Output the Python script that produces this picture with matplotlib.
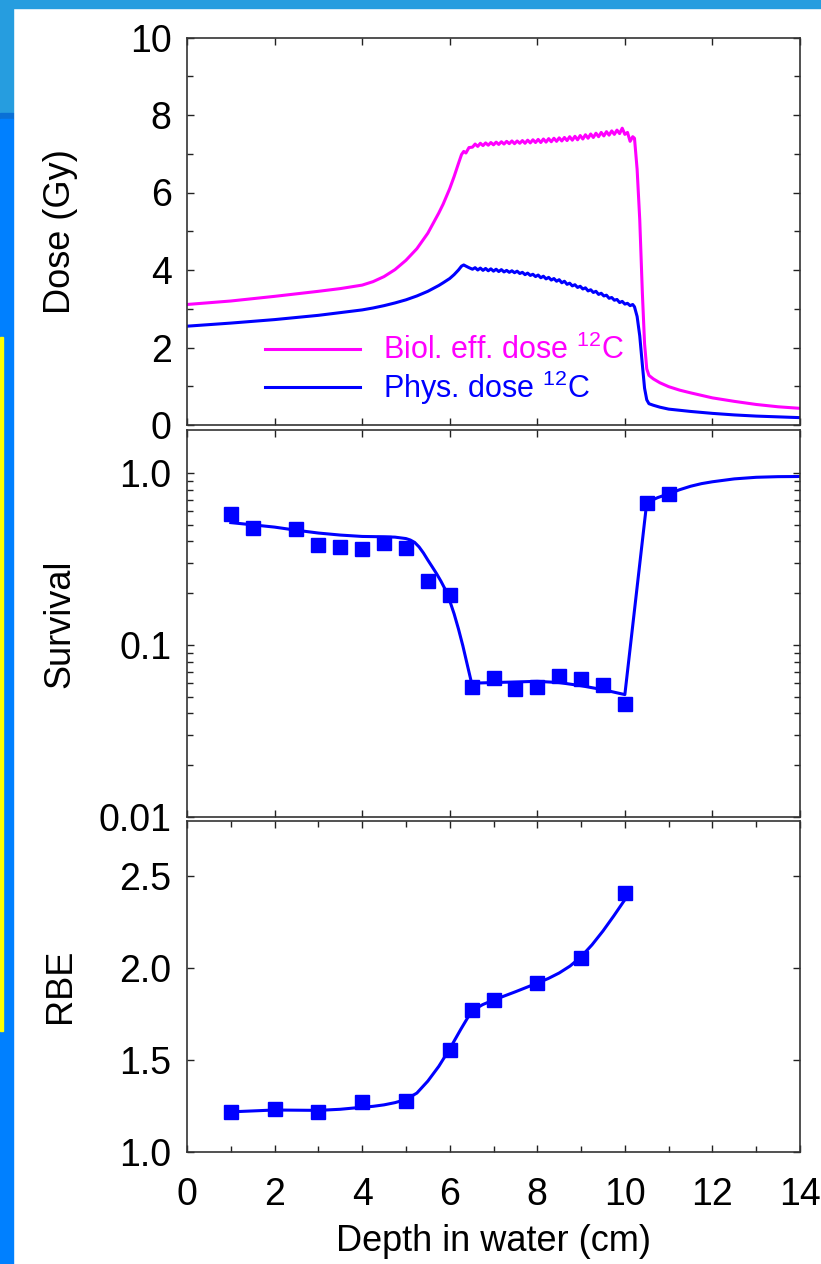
import matplotlib
matplotlib.use("Agg")
import matplotlib.pyplot as plt
from matplotlib.patches import Rectangle
from matplotlib.ticker import MultipleLocator, FixedLocator, FixedFormatter, FormatStrFormatter, LogLocator, NullFormatter

plt.rcParams['font.family'] = ['Liberation Sans', 'DejaVu Sans']
plt.rcParams['mathtext.fontset'] = 'custom'
plt.rcParams['mathtext.rm'] = 'Liberation Sans'

# ---- depth dose curves (top panel) ----
dose_x = [0, 1, 2, 3, 3.5, 4, 4.25, 4.5, 4.75, 5.0, 5.25, 5.5, 5.75, 5.85, 6.0, 6.1, 6.2, 6.27, 6.32, 6.37, 6.44,
          6.52, 6.58, 6.64, 6.70, 6.76, 6.82, 6.88, 6.94, 7.00, 7.06,
          7.12, 7.18, 7.24, 7.30, 7.36, 7.42, 7.48, 7.54, 7.60, 7.66,
          7.72, 7.78, 7.84, 7.90, 7.96, 8.02, 8.08, 8.14, 8.20, 8.26,
          8.32, 8.38, 8.44, 8.50, 8.56, 8.62, 8.68, 8.74, 8.80, 8.86,
          8.92, 8.98, 9.04, 9.10, 9.16, 9.22, 9.28, 9.34, 9.40, 9.46,
          9.52, 9.58, 9.64, 9.70, 9.76, 9.82, 9.88, 9.94,
          10.00, 10.06, 10.12, 10.18, 10.22, 10.28, 10.34, 10.40, 10.45, 10.50, 10.55,
          10.65, 10.8, 11.0, 11.25, 11.5, 12.0, 12.5, 13.0, 13.5, 14.0]

biol_dose = [3.11, 3.20, 3.32, 3.45, 3.52, 3.61, 3.70, 3.83, 4.01, 4.25, 4.55, 4.95, 5.47, 5.70, 6.10, 6.41, 6.75, 6.98, 7.06, 7.02, 7.16,
             7.17, 7.25, 7.19, 7.27, 7.21, 7.28, 7.22, 7.29, 7.23, 7.30,
             7.24, 7.31, 7.25, 7.32, 7.26, 7.33, 7.26, 7.33, 7.27, 7.34,
             7.27, 7.35, 7.28, 7.36, 7.29, 7.37, 7.29, 7.38, 7.30, 7.39,
             7.31, 7.40, 7.32, 7.41, 7.33, 7.42, 7.34, 7.44, 7.35, 7.45,
             7.36, 7.47, 7.38, 7.49, 7.40, 7.51, 7.42, 7.53, 7.44, 7.55,
             7.46, 7.57, 7.48, 7.59, 7.50, 7.61, 7.52, 7.66,
             7.50, 7.55, 7.32, 7.44, 7.40, 6.60, 5.30, 3.40, 2.10, 1.45, 1.28,
             1.19, 1.09, 0.99, 0.90, 0.83, 0.70, 0.61, 0.53, 0.47, 0.43]

phys_dose = [2.55, 2.63, 2.72, 2.83, 2.90, 2.97, 3.02, 3.08, 3.15, 3.23, 3.33, 3.45, 3.60, 3.67, 3.78, 3.88, 4.00, 4.10, 4.13, 4.10, 4.06,
             4.02, 4.06, 4.00, 4.05, 3.99, 4.04, 3.98, 4.03, 3.97, 4.02,
             3.96, 4.01, 3.95, 3.99, 3.94, 3.98, 3.93, 3.97, 3.91, 3.94,
             3.88, 3.92, 3.86, 3.89, 3.83, 3.87, 3.80, 3.84, 3.77, 3.81,
             3.74, 3.78, 3.71, 3.75, 3.67, 3.71, 3.63, 3.66, 3.59, 3.62,
             3.55, 3.58, 3.51, 3.54, 3.46, 3.49, 3.42, 3.45, 3.37, 3.40,
             3.33, 3.35, 3.27, 3.29, 3.22, 3.24, 3.16, 3.19,
             3.12, 3.14, 3.08, 3.11, 3.05, 2.80, 2.30, 1.55, 0.95, 0.65, 0.55,
             0.51, 0.46, 0.41, 0.38, 0.35, 0.30, 0.26, 0.23, 0.21, 0.19]

# ---- survival (middle panel) ----
surv_x = [1.0, 1.5, 2.5, 3.0, 3.5, 4.0, 4.5, 5.0, 5.5, 6.0, 6.5, 7.0, 7.5, 8.0, 8.5, 9.0, 9.5, 10.0, 10.5, 11.0]
surv_y = [0.58, 0.48, 0.475, 0.383, 0.374, 0.36, 0.39, 0.366, 0.237, 0.196,
          0.0568, 0.0644, 0.0555, 0.0568, 0.0659, 0.0635, 0.0589, 0.0456, 0.674, 0.754]
surv_fit_x = [1.0, 1.5, 2.0, 2.5, 3.0, 3.5, 4.0, 4.5, 4.75, 5.0, 5.1, 5.2, 5.3, 5.4, 5.5, 5.6, 5.7, 5.8, 5.9,
              6.0, 6.1, 6.2, 6.3, 6.4, 6.5,
              7.0, 7.5, 8.0, 8.5, 9.0, 9.5, 10.0, 10.5, 10.75, 11.0, 11.25, 11.5, 11.75, 12.0, 12.5, 13.0, 13.5, 14.0]
surv_fit_y = [0.515, 0.50, 0.485, 0.465, 0.448, 0.436, 0.428, 0.426, 0.424, 0.416, 0.408, 0.395, 0.372, 0.343, 0.312,
              0.285, 0.26, 0.235, 0.21, 0.181, 0.152, 0.124, 0.099, 0.077, 0.060,
              0.0605, 0.061, 0.0615, 0.0605, 0.058, 0.055, 0.0515, 0.674, 0.72, 0.757, 0.80, 0.838, 0.868,
              0.89, 0.925, 0.945, 0.953, 0.955]

# ---- RBE (bottom panel) ----
rbe_x = [1.0, 2.0, 3.0, 4.0, 5.0, 6.0, 6.5, 7.0, 8.0, 9.0, 10.0]
rbe_y = [1.215, 1.231, 1.215, 1.269, 1.278, 1.556, 1.773, 1.823, 1.917, 2.055, 2.405]
rbe_fit_x = [1.0, 2.0, 3.0, 3.5, 4.0, 4.25, 4.5, 4.75, 5.0, 5.25, 5.5, 5.75, 6.0, 6.25, 6.5, 6.75, 7.0,
             7.5, 8.0, 8.25, 8.5, 8.75, 9.0, 9.25, 9.5, 9.75, 10.0]
rbe_fit_y = [1.218, 1.228, 1.226, 1.232, 1.243, 1.248, 1.256, 1.268, 1.285, 1.32, 1.385, 1.465, 1.56, 1.665, 1.765,
             1.80, 1.825, 1.87, 1.917, 1.942, 1.972, 2.01, 2.06, 2.125, 2.20, 2.283, 2.37]

BLUE = '#0000FF'
PINK = '#FF00FF'
TICK_FS = 27
LABEL_FS = 26

fig = plt.figure(figsize=(8.21, 12.64), dpi=100)
fig.patch.set_facecolor('white')

# slide background strips
H = 1264.0
W = 821.0
fig.add_artist(Rectangle((0, 1 - 8 / H), 1, 8 / H, transform=fig.transFigure, color='#269DDF', zorder=0))
fig.add_artist(Rectangle((0, 1 - 113 / H), 13 / W, 113 / H, transform=fig.transFigure, color='#269DDF', zorder=0))
fig.add_artist(Rectangle((0, 1 - 119 / H), 13 / W, 6 / H, transform=fig.transFigure, color='#0A70D6', zorder=0))
fig.add_artist(Rectangle((0, 0), 13 / W, 1 - 119 / H, transform=fig.transFigure, color='#0080FF', zorder=0))
fig.add_artist(Rectangle((0, 1 - 1031 / H), 2.5 / W, (1031 - 337) / H, transform=fig.transFigure, color='#FFFF00', zorder=1))

left, width = 187 / W, 613 / W
ax1 = fig.add_axes([left, 1 - 425 / H, width, 387.5 / H])
ax2 = fig.add_axes([left, 1 - 817 / H, width, 387 / H])
ax3 = fig.add_axes([left, 1 - 1152 / H, width, 331.5 / H])

for ax in (ax1, ax2, ax3):
    ax.set_xlim(0, 14)
    ax.xaxis.set_major_locator(MultipleLocator(2))
    ax.tick_params(which='both', direction='in', top=True, right=True, labelsize=TICK_FS,
                   width=1.0, color='#222222')
    ax.tick_params(which='major', length=5)
    ax.tick_params(which='minor', length=4)
    ax.tick_params(axis='y', pad=11)
    for s in ax.spines.values():
        s.set_linewidth(1.2)
        s.set_color('#333333')

# top: dose
ax1.plot(dose_x, biol_dose, color=PINK, lw=2.2, label=r'Biol. eff. dose $\mathregular{^{12}}$C')
ax1.plot(dose_x, phys_dose, color=BLUE, lw=2.2, label=r'Phys. dose $\mathregular{^{12}}$C')
ax1.set_ylim(0, 10)
ax1.yaxis.set_major_locator(MultipleLocator(2))
ax1.yaxis.set_minor_locator(MultipleLocator(1))
ax1.tick_params(labelbottom=False)
ax1.set_ylabel('Dose (Gy)', fontsize=LABEL_FS)
ax1.legend(loc='lower left', bbox_to_anchor=(0.108, 0.015), frameon=False, fontsize=22, borderaxespad=0,
           handlelength=3.1, handletextpad=0.75, labelspacing=0.08, labelcolor='linecolor')

# middle: survival
ax2.set_yscale('log')
ax2.plot(surv_fit_x, surv_fit_y, color=BLUE, lw=2.2)
ax2.plot(surv_x, surv_y, 's', color=BLUE, ms=10, mec=BLUE)
ax2.set_ylim(0.01, 1.78)
ax2.yaxis.set_major_locator(FixedLocator([0.01, 0.1, 1.0]))
ax2.yaxis.set_major_formatter(FixedFormatter(['0.01', '0.1', '1.0']))
ax2.yaxis.set_minor_locator(LogLocator(base=10, subs=[2, 3, 4, 5, 6, 7, 8, 9]))
ax2.yaxis.set_minor_formatter(NullFormatter())
ax2.tick_params(labelbottom=False)
ax2.set_ylabel('Survival', fontsize=LABEL_FS)

# bottom: RBE
ax3.plot(rbe_fit_x, rbe_fit_y, color=BLUE, lw=2.2)
ax3.plot(rbe_x, rbe_y, 's', color=BLUE, ms=10, mec=BLUE)
ax3.set_ylim(1.0, 2.8)
ax3.yaxis.set_major_locator(MultipleLocator(0.5))
ax3.yaxis.set_major_formatter(FormatStrFormatter('%.1f'))
ax3.xaxis.set_minor_locator(MultipleLocator(1))
ax3.tick_params(axis='x', pad=18)
ax3.set_ylabel('RBE', fontsize=LABEL_FS)
ax3.set_xlabel('Depth in water (cm)', fontsize=LABEL_FS, labelpad=8)

for ax in (ax1, ax2, ax3):
    ax.yaxis.set_label_coords(-0.178, 0.5)

fig.savefig('out.png', dpi=100)
